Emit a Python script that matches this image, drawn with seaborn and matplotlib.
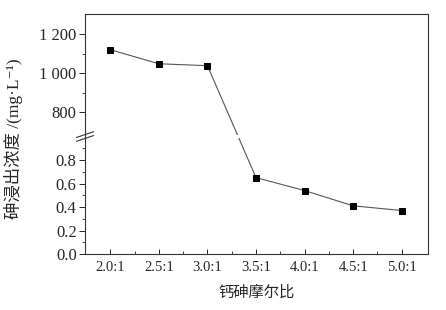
import numpy as np
import seaborn as sns
import matplotlib
matplotlib.use('Agg')
import matplotlib.pyplot as plt
from matplotlib.ticker import FixedLocator
from matplotlib.patches import Rectangle
import matplotlib.transforms as mtransforms

# data
ratios = [2.0, 2.5, 3.0, 3.5, 4.0, 4.5, 5.0]
ratio_labels = ["2.0:1", "2.5:1", "3.0:1", "3.5:1", "4.0:1", "4.5:1", "5.0:1"]
arsenic = [1121, 1049, 1039, 0.65, 0.54, 0.41, 0.37]

yticks_major = [0.0, 0.2, 0.4, 0.6, 0.8, 800, 1000, 1200]
ytick_labels = ["0.0", "0.2", "0.4", "0.6", "0.8", "800", "1 000", "1 200"]
yticks_minor = [0.1, 0.3, 0.5, 0.7, 0.9, 900, 1100]

# broken y axis: lower part 0..1.0, upper part 676..1304
LOW_TOP = 1.0
UP_BOT, UP_TOP = 676.0, 1304.0
H = 1.043  # height of upper part relative to lower
EPS = 1e-6


def fwd(y):
    y = np.asarray(y, dtype=float)
    mid = LOW_TOP + (y - LOW_TOP) / (UP_BOT - LOW_TOP) * EPS
    up = LOW_TOP + EPS + (y - UP_BOT) / (UP_TOP - UP_BOT) * H
    return np.where(y <= LOW_TOP, y, np.where(y >= UP_BOT, up, mid))


def inv(u):
    u = np.asarray(u, dtype=float)
    mid = LOW_TOP + (u - LOW_TOP) / EPS * (UP_BOT - LOW_TOP)
    up = UP_BOT + (u - LOW_TOP - EPS) / H * (UP_TOP - UP_BOT)
    return np.where(u <= LOW_TOP, u, np.where(u >= LOW_TOP + EPS, up, mid))


sns.set_style("ticks")
plt.rcParams['font.family'] = ['Liberation Serif', 'Noto Sans CJK SC', 'DejaVu Serif']

fig = plt.figure(figsize=(4.46, 3.10), dpi=100)
ax = fig.add_axes([85 / 446, 56 / 310, 343 / 446, 240 / 310])

sns.lineplot(x=ratios, y=arsenic, ax=ax, color="#555555", linewidth=0.8,
             marker="s", markersize=4.5, markerfacecolor="black",
             markeredgecolor="black", errorbar=None, zorder=2)

ax.set_yscale('function', functions=(fwd, inv))
ax.set_xlim(1.74, 5.27)
ax.set_ylim(0, UP_TOP)

ax.set_xticks(ratios)
ax.set_xticklabels(ratio_labels, fontsize=10.5)
ax.xaxis.set_minor_locator(FixedLocator([r + 0.25 for r in ratios[:-1]]))
ax.tick_params(axis='x', which='both', direction='in', top=False, pad=5)
ax.tick_params(axis='x', which='major', length=3.5, width=0.7)
ax.tick_params(axis='x', which='minor', length=2, width=0.6)

ax.yaxis.set_major_locator(FixedLocator(yticks_major))
ax.set_yticklabels(ytick_labels, fontsize=12)
ax.yaxis.set_minor_locator(FixedLocator(yticks_minor))
ax.yaxis.set_minor_formatter(plt.NullFormatter())
ax.tick_params(axis='y', which='both', direction='out', right=False)
ax.tick_params(axis='y', which='major', length=4, width=0.7, pad=2)
ax.tick_params(axis='y', which='minor', length=2, width=0.6)

for s in ax.spines.values():
    s.set_linewidth(0.8)
    s.set_color("#333333")

# break marks on the left spine
brk = 1.0 / (1.0 + H)
for dy in (-0.008, 0.008):
    ax.plot([-0.025, 0.025], [brk + dy - 0.012, brk + dy + 0.012],
            transform=ax.transAxes, color="#333333", lw=0.8, clip_on=False, zorder=5)

# small gap where the data line crosses the break
i = next(k for k in range(len(arsenic) - 1) if arsenic[k] > UP_BOT and arsenic[k + 1] < LOW_TOP)
f1, f2 = float(fwd(arsenic[i])), float(fwd(arsenic[i + 1]))
t = (f1 - LOW_TOP) / (f1 - f2)
xc = ratios[i] + t * (ratios[i + 1] - ratios[i])
trans = mtransforms.blended_transform_factory(ax.transData, ax.transAxes)
ax.add_patch(Rectangle((xc - 0.05, brk - 0.006), 0.1, 0.012, transform=trans,
                       facecolor="white", edgecolor="none", zorder=2.1))

ax.set_xlabel("钙砷摩尔比", fontsize=11, labelpad=8)
ax.set_ylabel("砷浸出浓度 /(mg·L⁻¹)", fontsize=12.5)
ax.yaxis.set_label_coords(-0.18, 0.48)

fig.savefig("out.png", dpi=100, facecolor="white")
